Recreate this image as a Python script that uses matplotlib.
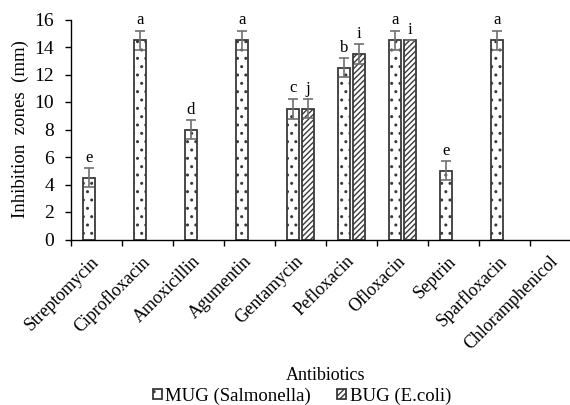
"""Inhibition zones of antibiotics, MUG vs BUG."""

import matplotlib
matplotlib.use("Agg")
import matplotlib.pyplot as plt
import numpy as np

antibiotics = ["Streptomycin", "Ciprofloxacin", "Amoxicillin", "Agumentin", "Gentamycin",
               "Pefloxacin", "Ofloxacin", "Septrin", "Sparfloxacin", "Chloramphenicol"]
mug_values = [4.5, 14.5, 8.0, 14.5, 9.5, 12.5, 14.5, 5.0, 14.5, 0.0]
mug_errors = [0.7, 0.7, 0.7, 0.7, 0.75, 0.7, 0.7, 0.7, 0.7, 0.0]
mug_letters = ["e", "a", "d", "a", "c", "b", "a", "e", "a", ""]
bug_values = [0.0, 0.0, 0.0, 0.0, 9.5, 13.5, 14.5, 0.0, 0.0, 0.0]
bug_errors = [0.0, 0.0, 0.0, 0.0, 0.7, 0.7, 0.0, 0.0, 0.0, 0.0]
bug_letters = ["", "", "", "", "j", "i", "i", "", "", ""]

plt.rcParams["font.family"] = ["Liberation Serif", "DejaVu Serif"]
plt.rcParams["hatch.linewidth"] = 1.0

W, H = 570, 405
fig = plt.figure(figsize=(W / 100, H / 100), dpi=100)
x0, x1, y0, y1 = 70.7, 581.0, 239.5, 19.5
ax = fig.add_axes([x0 / W, 1 - y0 / H, (x1 - x0) / W, (y0 - y1) / H])

edge = "#3a3a3a"
err_col = "#707070"
n = len(antibiotics)
idx = np.arange(n)
bw = 0.235


def draw_series(values, errors, letters, offset, hatch, label):
    values = np.asarray(values)
    errors = np.asarray(errors)
    keep = values > 0
    bars = ax.bar(idx[keep] + offset, values[keep], width=bw, color="white", edgecolor=edge,
                  linewidth=1.3, hatch=hatch, label=label, zorder=2)
    ax.errorbar(idx[keep] + offset, values[keep], yerr=errors[keep], fmt="none",
                ecolor=err_col, elinewidth=1.2, capsize=3.5, capthick=1.2, zorder=3)
    for i in idx[keep]:
        if letters[i]:
            ax.annotate(letters[i], (i + offset, values[i] + errors[i]),
                        xytext=(0, 4.5), textcoords="offset points", ha="center",
                        va="baseline", fontsize=12)
    return bars


mug = draw_series(mug_values, mug_errors, mug_letters, 0.355, "..", "MUG (Salmonella)")
bug = draw_series(bug_values, bug_errors, bug_letters, 0.645, "//////", "BUG (E.coli)")

ax.set_xlim(0, n)
ax.set_ylim(0, 16)
ax.set_yticks(np.arange(0, 17, 2))
ax.set_xticks(idx + 0.5)
ax.set_xticklabels(antibiotics, rotation=45, ha="right", va="center",
                   rotation_mode="anchor", fontsize=13)
ax.set_xticks(idx, minor=True)
ax.tick_params(axis="x", which="major", length=0, pad=14)
ax.tick_params(axis="x", which="minor", length=4, width=1.0, direction="out")
ax.tick_params(axis="y", length=4, width=1.0, direction="out", labelsize=14, pad=8)

for side in ("top", "right"):
    ax.spines[side].set_visible(False)
for side in ("left", "bottom"):
    ax.spines[side].set_linewidth(1.0)

fig.text(20 / W, 1 - 129.5 / H, "Inhibition  zones  (mm)", rotation=90,
         ha="center", va="center", fontsize=13.5)
fig.text(326 / W, 1 - 375 / H, "Antibiotics", ha="center", va="center", fontsize=13)

fig.legend(handles=[mug, bug], loc="center", bbox_to_anchor=(302 / W, 1 - 396.5 / H),
           ncol=2, frameon=False, fontsize=13.5, handlelength=0.45, handleheight=0.45,
           handletextpad=0.2, columnspacing=1.4, borderpad=0, borderaxespad=0)

fig.savefig("out.png", dpi=100)
plt.close(fig)
